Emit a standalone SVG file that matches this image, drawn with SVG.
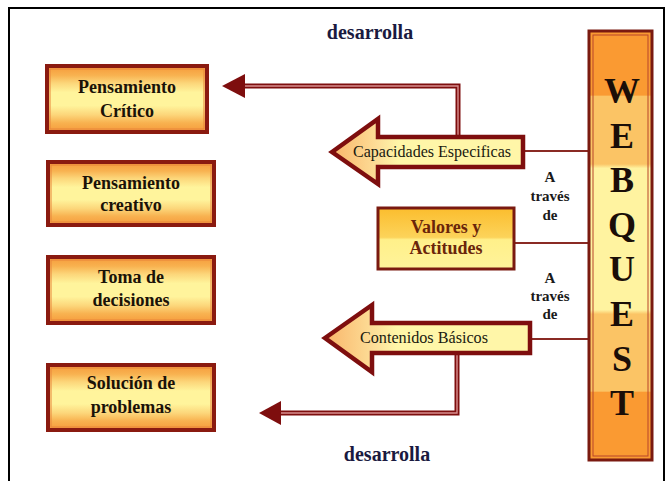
<svg xmlns="http://www.w3.org/2000/svg" width="671" height="481" viewBox="0 0 671 481">
<defs>
<linearGradient id="gBox" x1="0" y1="0" x2="0" y2="1">
<stop offset="0" stop-color="#f69a3a"/>
<stop offset="0.14" stop-color="#f8b250"/>
<stop offset="0.26" stop-color="#fcd67a"/>
<stop offset="0.4" stop-color="#fff49c"/>
<stop offset="0.6" stop-color="#fff49c"/>
<stop offset="0.74" stop-color="#fcd67a"/>
<stop offset="0.86" stop-color="#f8b250"/>
<stop offset="1" stop-color="#f69a3a"/>
</linearGradient>
<linearGradient id="gVal" x1="0" y1="0" x2="0" y2="1">
<stop offset="0" stop-color="#fbbd2e"/>
<stop offset="0.48" stop-color="#fcd35a"/>
<stop offset="0.52" stop-color="#fff08a"/>
<stop offset="1" stop-color="#fff39a"/>
</linearGradient>
<linearGradient id="gArrow" x1="0" y1="0" x2="1" y2="0">
<stop offset="0" stop-color="#f9b56a"/>
<stop offset="0.25" stop-color="#fde09a"/>
<stop offset="0.35" stop-color="#fff6a8"/>
<stop offset="1" stop-color="#fff6a8"/>
</linearGradient>
<linearGradient id="gCol" x1="0" y1="0" x2="0" y2="1">
<stop offset="0" stop-color="#fa9a32"/>
<stop offset="0.15" stop-color="#fa9a32"/>
<stop offset="0.151" stop-color="#fbc465"/>
<stop offset="0.31" stop-color="#fbc465"/>
<stop offset="0.32" stop-color="#fff3a0"/>
<stop offset="0.65" stop-color="#fff3a0"/>
<stop offset="0.66" stop-color="#fbc465"/>
<stop offset="0.84" stop-color="#fbc465"/>
<stop offset="0.841" stop-color="#fa9a32"/>
<stop offset="1" stop-color="#fa9a32"/>
</linearGradient>
</defs>
<style>
text{font-family:'Liberation Serif','DejaVu Serif',serif}
.box{fill:url(#gBox);stroke:#8a1a10;stroke-width:4}
.inner{fill:none;stroke:#e8843a;stroke-width:1}
.bt{font-size:18px;font-weight:bold;fill:#1a1208;text-anchor:middle}
.lbl{font-size:20px;font-weight:bold;fill:#1a1a40;text-anchor:middle}
.at{font-size:15px;font-weight:bold;fill:#1a1a1a;text-anchor:middle}
.arr{fill:url(#gArrow);stroke:#7e0e0e;stroke-width:4.5;stroke-linejoin:miter}
.at2{font-size:16px;fill:#1a1a10;text-anchor:middle}
.wq{font-size:36px;font-weight:bold;fill:#1a0e08;text-anchor:middle}
.dl{fill:none;stroke:#7e0e0e;stroke-width:5}
.dli{fill:none;stroke:#d99090;stroke-width:1.4}
.thin{fill:none;stroke:#8a2a24;stroke-width:2}
.head{fill:#7e0e0e}
</style>
<path d="M9,481 V8 H664 V481" fill="none" stroke="#000" stroke-width="2"/>

<g id="connectors">
<path class="dl" d="M458,136 V86 H240"/>
<path class="dli" d="M458,136 V86 H240"/>
<polygon class="head" points="222,86 245,74 245,98"/>
<path class="dl" d="M457,352 V413 H276"/>
<path class="dli" d="M457,352 V413 H276"/>
<polygon class="head" points="259,413 281,401 281,425"/>
<line class="thin" x1="523" y1="151" x2="590" y2="151"/>
<line class="thin" x1="514" y1="243" x2="590" y2="243"/>
<line class="thin" x1="530" y1="339" x2="590" y2="339"/>
</g>

<text class="lbl" x="370" y="39">desarrolla</text>
<text class="lbl" x="387" y="461">desarrolla</text>

<g id="n-critico">
<rect class="box" x="47" y="66" width="160" height="66"/>
<rect class="inner" x="50" y="69" width="154" height="60"/>
<text class="bt" x="127" y="93">Pensamiento</text>
<text class="bt" x="127" y="117">Crítico</text>
</g>
<g id="n-creativo">
<rect class="box" x="48" y="162" width="166" height="63"/>
<rect class="inner" x="51" y="165" width="160" height="57"/>
<text class="bt" x="131" y="189">Pensamiento</text>
<text class="bt" x="131" y="211">creativo</text>
</g>
<g id="n-toma">
<rect class="box" x="48" y="257" width="166" height="66"/>
<rect class="inner" x="51" y="260" width="160" height="60"/>
<text class="bt" x="131" y="283">Toma de</text>
<text class="bt" x="131" y="306">decisiones</text>
</g>
<g id="n-solucion">
<rect class="box" x="48" y="365" width="166" height="65"/>
<rect class="inner" x="51" y="368" width="160" height="59"/>
<text class="bt" x="131" y="389">Solución de</text>
<text class="bt" x="131" y="413">problemas</text>
</g>

<g id="n-capacidades">
<polygon class="arr" points="332,152 378,119 378,137 523,137 523,167 378,167 378,184"/>
<text class="at2" x="432" y="157" textLength="158" lengthAdjust="spacingAndGlyphs">Capacidades Especificas</text>
</g>
<g id="n-valores">
<rect x="378" y="208" width="136" height="61" fill="url(#gVal)" stroke="#7a1a10" stroke-width="3"/>
<text class="bt" x="446" y="233" style="fill:#6a250a">Valores y</text>
<text class="bt" x="446" y="254" style="fill:#6a250a">Actitudes</text>
</g>
<g id="n-contenidos">
<polygon class="arr" points="325,338 372,305 372,323 530,323 530,353 372,353 372,372"/>
<text class="at2" x="424" y="343" textLength="128" lengthAdjust="spacingAndGlyphs">Contenidos  Básicos</text>
</g>

<g id="t-atraves1">
<text class="at" x="550" y="182">A</text>
<text class="at" x="550" y="201">través</text>
<text class="at" x="550" y="220">de</text>
</g>
<g id="t-atraves2">
<text class="at" x="550" y="283">A</text>
<text class="at" x="550" y="301">través</text>
<text class="at" x="550" y="319">de</text>
</g>

<g id="n-webquest">
<rect x="589" y="31" width="63" height="429" fill="url(#gCol)" stroke="#7a1a10" stroke-width="3"/>
<rect x="593" y="35" width="55" height="421" fill="none" stroke="#b8452a" stroke-width="1"/>
<text class="wq" x="622" y="103">W</text>
<text class="wq" x="622" y="148">E</text>
<text class="wq" x="622" y="192">B</text>
<text class="wq" x="622" y="237">Q</text>
<text class="wq" x="622" y="281">U</text>
<text class="wq" x="622" y="326">E</text>
<text class="wq" x="622" y="371">S</text>
<text class="wq" x="622" y="415">T</text>
</g>
</svg>
